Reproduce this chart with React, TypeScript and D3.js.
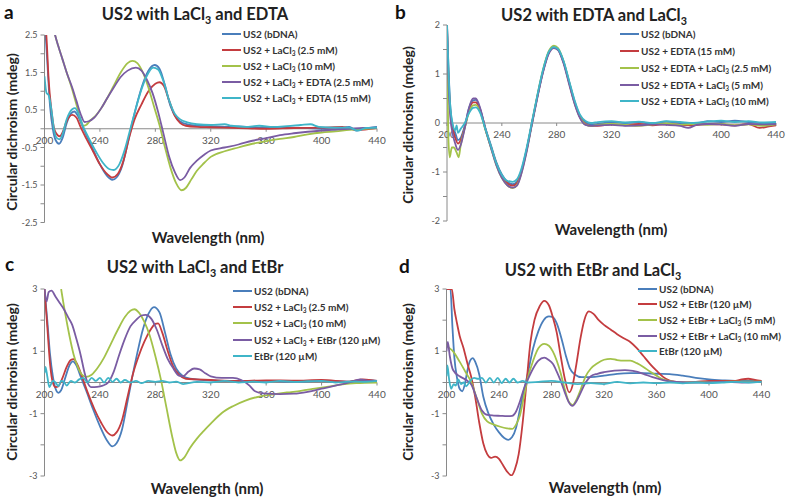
import React from 'react';
import * as d3 from 'd3';

type P = [number, number];

// ---------- tick values ----------
const xTicks = [200, 240, 280, 320, 360, 400, 440];
const aYLabels = [2.5, 1.5, 0.5, -0.5, -1.5, -2.5];
const bYLabels = [2, 1, 0, -1, -2];
const cdYLabels = [3, 1, -1, -3];

// ---------- legends ----------
const aLegend = ['US2 (bDNA)', 'US2 + LaCl₃ (2.5 mM)', 'US2 + LaCl₃ (10 mM)', 'US2 + LaCl₃ + EDTA (2.5 mM)', 'US2 + LaCl₃ + EDTA (15 mM)'];
const bLegend = ['US2 (bDNA)', 'US2 + EDTA (15 mM)', 'US2 + EDTA + LaCl₃ (2.5 mM)', 'US2 + EDTA + LaCl₃ (5 mM)', 'US2 + EDTA + LaCl₃ (10 mM)'];
const cLegend = ['US2 (bDNA)', 'US2 + LaCl₃ (2.5 mM)', 'US2 + LaCl₃ (10 mM)', 'US2 + LaCl₃ + EtBr (120 µM)', 'EtBr (120 µM)'];
const dLegend = ['US2 (bDNA)', 'US2 + EtBr (120 µM)', 'US2 + EtBr + LaCl₃ (5 mM)', 'US2 + EtBr + LaCl₃ (10 mM)', 'EtBr (120 µM)'];

// ---------- panel a ----------
const aBlue: P[] = [[200, 3.0], [202, 1.8], [204, 0.6], [206, 0.0], [208, -0.3], [210.5, -0.4], [213, -0.25], [216, 0.15], [219, 0.4], [221.5, 0.46], [224, 0.35], [227, 0.1], [230, -0.15], [235, -0.55], [240, -0.95], [245, -1.25], [249, -1.36], [252, -1.3], [256, -1.0], [260, -0.4], [263, 0.1], [267, 0.7], [271, 1.2], [275, 1.55], [279.5, 1.7], [283, 1.6], [287, 1.15], [291, 0.6], [295, 0.3], [300, 0.15], [310, 0.08], [320, 0.07], [330, 0.05], [340, 0.06], [350, 0.04], [360, 0.03], [370, 0.05], [380, 0.03], [390, 0.02], [400, 0.0], [410, -0.02], [420, 0.05], [425, -0.05], [430, 0.0], [440, 0.05]];
const aRed: P[] = [[200, 3.0], [201.5, 2.4], [203, 1.3], [205, 0.5], [207, 0.0], [209, -0.15], [211, -0.2], [213, -0.1], [216, 0.2], [220, 0.37], [223, 0.3], [226, 0.05], [230, -0.25], [235, -0.6], [240, -0.95], [245, -1.2], [249, -1.3], [253, -1.2], [257, -0.85], [261, -0.25], [265, 0.25], [270, 0.65], [275, 1.0], [280, 1.2], [283, 1.24], [286, 1.15], [290, 0.75], [294, 0.35], [298, 0.15], [302, 0.08], [310, 0.05], [320, 0.04], [340, 0.02], [360, 0.0], [380, 0.02], [400, 0.03], [415, 0.05], [425, -0.03], [440, 0.02]];
const aGreen: P[] = [[205, 3.0], [207, 2.6], [210, 2.2], [213, 1.85], [216, 1.5], [220, 1.05], [223, 0.65], [226, 0.25], [228, 0.08], [230, 0.1], [233, 0.22], [237, 0.35], [241, 0.55], [245, 0.8], [250, 1.15], [255, 1.5], [260, 1.75], [263.5, 1.81], [267, 1.75], [271, 1.5], [275, 1.1], [279, 0.6], [283, 0.1], [287, -0.5], [291, -1.05], [295, -1.45], [299, -1.64], [302, -1.58], [306, -1.35], [310, -1.12], [315, -0.92], [320, -0.75], [330, -0.6], [340, -0.5], [350, -0.4], [360, -0.33], [370, -0.27], [380, -0.22], [390, -0.15], [400, -0.1], [410, -0.07], [420, -0.03], [430, 0.0], [440, 0.02]];
const aPurple: P[] = [[205, 3.0], [207, 2.6], [210, 2.2], [213, 1.85], [216, 1.5], [220, 1.1], [223, 0.75], [226, 0.4], [229, 0.18], [232, 0.2], [236, 0.3], [241, 0.55], [245, 0.8], [250, 1.1], [255, 1.38], [260, 1.55], [266, 1.63], [270, 1.55], [274, 1.3], [278, 0.95], [282, 0.45], [286, -0.15], [290, -0.75], [294, -1.15], [298, -1.37], [301, -1.3], [305, -1.05], [310, -0.85], [315, -0.7], [320, -0.58], [330, -0.5], [340, -0.42], [350, -0.32], [360, -0.25], [370, -0.17], [380, -0.12], [390, -0.08], [400, -0.05], [410, -0.02], [420, 0.0], [430, 0.02], [440, 0.03]];
const aCyan: P[] = [[200, 1.4], [201.5, 0.95], [203, 0.9], [205, 0.5], [207, -0.05], [209, -0.25], [211, -0.28], [213, -0.15], [216, 0.25], [220, 0.52], [222, 0.55], [225, 0.35], [228, 0.05], [232, -0.25], [237, -0.6], [242, -0.9], [247, -1.08], [250, -1.1], [254, -0.95], [258, -0.55], [262, 0.0], [266, 0.55], [270, 1.05], [274, 1.42], [278.5, 1.63], [282, 1.58], [286, 1.25], [290, 0.75], [294, 0.4], [298, 0.25], [303, 0.17], [310, 0.12], [320, 0.1], [330, 0.12], [335, 0.08], [345, 0.05], [355, 0.08], [365, 0.05], [375, 0.07], [385, 0.1], [392, 0.12], [398, 0.05], [410, 0.03], [420, 0.03], [426, -0.05], [432, 0.02], [440, 0.03]];

// ---------- panel b ----------
const bBlue: P[] = [[200, 2.05], [201, 1.2], [202.5, 0.3], [204, -0.05], [206, -0.2], [208, -0.35], [210, -0.3], [213, -0.05], [216, 0.3], [219, 0.46], [221, 0.47], [224, 0.3], [228, -0.1], [232, -0.45], [236, -0.8], [240, -1.05], [244, -1.2], [248, -1.25], [251, -1.2], [254, -1.0], [258, -0.55], [262, 0.0], [266, 0.55], [270, 1.05], [274, 1.42], [278, 1.55], [281, 1.5], [285, 1.25], [289, 0.85], [293, 0.45], [297, 0.15], [301, 0.02], [305, -0.03], [310, -0.02], [320, 0.02], [330, 0.0], [340, 0.02], [350, -0.02], [360, 0.03], [370, 0.0], [380, -0.02], [390, 0.04], [400, 0.02], [410, 0.05], [420, 0.02], [430, 0.0], [440, 0.0]];
const bRed: P[] = [[200, 2.0], [201, 1.0], [202.5, 0.2], [204, -0.1], [206, -0.3], [208, -0.42], [210, -0.35], [213, -0.08], [216, 0.25], [219, 0.42], [221, 0.42], [224, 0.28], [228, -0.12], [232, -0.48], [236, -0.83], [240, -1.08], [244, -1.23], [248, -1.28], [251, -1.23], [254, -1.02], [258, -0.56], [262, 0.0], [266, 0.55], [270, 1.05], [274, 1.42], [278, 1.54], [281, 1.5], [285, 1.24], [289, 0.83], [293, 0.42], [297, 0.12], [301, -0.02], [305, -0.06], [310, -0.06], [320, -0.03], [330, -0.05], [340, -0.02], [350, -0.05], [360, -0.02], [370, -0.04], [380, -0.05], [390, -0.02], [400, -0.03], [410, -0.05], [420, -0.02], [428, -0.1], [435, -0.07], [440, -0.05]];
const bGreen: P[] = [[200, 1.5], [201, -0.3], [202, -0.7], [203.5, -0.5], [205, -0.5], [207, -0.6], [208.5, -0.7], [210, -0.45], [213, -0.1], [216, 0.22], [219, 0.36], [221, 0.37], [224, 0.25], [228, -0.14], [232, -0.5], [236, -0.86], [240, -1.12], [244, -1.27], [248, -1.33], [251, -1.27], [254, -1.05], [258, -0.58], [262, 0.0], [266, 0.57], [270, 1.08], [274, 1.45], [278, 1.58], [281, 1.53], [285, 1.26], [289, 0.84], [293, 0.42], [297, 0.12], [301, -0.03], [305, -0.06], [310, -0.04], [320, -0.02], [330, -0.04], [340, -0.06], [350, -0.03], [360, -0.01], [370, -0.04], [380, -0.02], [390, -0.04], [400, -0.02], [410, -0.05], [420, -0.03], [430, -0.06], [440, -0.03]];
const bPurple: P[] = [[200, 1.9], [201, 0.9], [202.5, 0.1], [204, -0.2], [206, -0.42], [208, -0.55], [210, -0.45], [213, -0.1], [216, 0.3], [219, 0.5], [221, 0.5], [224, 0.32], [228, -0.12], [232, -0.5], [236, -0.86], [240, -1.12], [244, -1.27], [248, -1.32], [251, -1.28], [254, -1.06], [258, -0.6], [262, -0.02], [266, 0.53], [270, 1.03], [274, 1.4], [278, 1.53], [281, 1.49], [285, 1.22], [289, 0.8], [293, 0.4], [297, 0.1], [301, -0.04], [305, -0.06], [310, -0.05], [320, -0.04], [330, -0.06], [340, -0.05], [350, -0.03], [360, -0.04], [370, -0.06], [376, -0.1], [382, -0.04], [390, -0.02], [400, -0.03], [410, -0.06], [420, -0.02], [430, -0.03], [440, -0.02]];
const bCyan: P[] = [[200, 2.0], [202, 0.5], [204, 0.0], [206, -0.15], [207, -0.05], [208, -0.2], [210, -0.12], [213, 0.0], [216, 0.2], [219, 0.31], [221, 0.32], [224, 0.22], [228, -0.12], [232, -0.47], [236, -0.82], [240, -1.06], [244, -1.18], [248, -1.2], [251, -1.15], [254, -0.96], [258, -0.52], [262, 0.03], [266, 0.58], [270, 1.08], [274, 1.44], [278, 1.55], [281, 1.51], [285, 1.27], [289, 0.87], [293, 0.47], [297, 0.17], [301, 0.04], [305, 0.0], [310, 0.02], [320, 0.04], [330, 0.01], [340, 0.03], [350, 0.0], [360, 0.04], [370, 0.02], [380, 0.0], [390, 0.03], [400, 0.05], [410, 0.02], [420, 0.04], [430, 0.01], [440, 0.02]];

// ---------- panel c ----------
const cBlue: P[] = [[200, 3.0], [202, 2.0], [204, 0.9], [206, 0.2], [208, -0.2], [210, -0.33], [212, -0.25], [215, 0.15], [218, 0.55], [220.5, 0.68], [223, 0.55], [226, 0.2], [230, -0.25], [235, -0.85], [240, -1.4], [245, -1.85], [249, -2.05], [252, -1.95], [256, -1.5], [260, -0.6], [263, 0.1], [267, 0.95], [271, 1.7], [275, 2.2], [279, 2.42], [283, 2.25], [287, 1.6], [291, 0.9], [295, 0.45], [300, 0.2], [305, 0.12], [315, 0.08], [330, 0.05], [345, 0.04], [360, 0.05], [380, 0.03], [400, 0.05], [420, 0.03], [430, 0.08], [440, 0.05]];
const cRed: P[] = [[200, 3.0], [202, 1.8], [204, 0.6], [206, 0.0], [208, -0.15], [210, -0.12], [213, 0.15], [216, 0.5], [219, 0.72], [221, 0.75], [224, 0.55], [227, 0.2], [231, -0.3], [236, -0.85], [241, -1.3], [245, -1.58], [249, -1.7], [252, -1.6], [256, -1.2], [260, -0.45], [264, 0.3], [268, 0.85], [272, 1.3], [276, 1.65], [280, 1.88], [282, 1.9], [285, 1.6], [289, 1.0], [293, 0.5], [297, 0.25], [302, 0.12], [310, 0.1], [320, 0.08], [340, 0.05], [360, 0.07], [380, 0.06], [400, 0.08], [420, 0.03], [430, 0.1], [440, 0.05]];
const cGreen: P[] = [[212, 3.0], [215, 2.2], [218, 1.5], [221, 0.9], [224, 0.5], [227, 0.25], [230, 0.18], [234, 0.25], [238, 0.45], [243, 0.8], [248, 1.25], [253, 1.7], [258, 2.1], [262, 2.3], [265, 2.35], [268, 2.25], [272, 1.95], [276, 1.5], [280, 0.85], [284, 0.1], [288, -0.8], [292, -1.7], [295, -2.25], [298, -2.5], [301, -2.4], [305, -2.1], [310, -1.8], [315, -1.55], [320, -1.32], [328, -0.98], [336, -0.76], [345, -0.58], [355, -0.45], [365, -0.38], [375, -0.32], [385, -0.27], [395, -0.2], [405, -0.13], [415, -0.06], [425, -0.02], [440, 0.0]];
const cPurple: P[] = [[200, 3.0], [201.5, 2.6], [203, 2.9], [205, 2.95], [208, 2.75], [211, 2.55], [214, 2.35], [217, 2.1], [220, 1.85], [223, 1.4], [226, 0.9], [229, 0.3], [231, 0.0], [234, -0.15], [238, -0.14], [242, -0.1], [246, 0.0], [250, 0.35], [254, 0.9], [258, 1.4], [262, 1.8], [266, 2.0], [270, 2.15], [273, 2.17], [277, 2.05], [281, 1.7], [285, 1.2], [289, 0.75], [293, 0.45], [297, 0.22], [300, 0.2], [304, 0.35], [308, 0.45], [312, 0.42], [316, 0.3], [320, 0.2], [328, 0.15], [336, 0.15], [342, 0.08], [348, -0.1], [352, -0.28], [358, -0.35], [370, -0.37], [380, -0.36], [390, -0.3], [400, -0.2], [410, -0.1], [420, 0.0], [428, 0.1], [434, 0.05], [440, 0.05]];
const cCyan: P[] = [[200, 0.3], [200.7, 0.5], [202, 0.2], [203.5, -0.15], [206, 0.05], [208, 0.0], [210, -0.12], [212, 0.05], [214, 0.02], [216, -0.1], [219, 0.05], [222, 0.0], [225, 0.1], [228, 0.15], [231, 0.0], [234, 0.15], [237, 0.05], [240, 0.15], [243, 0.0], [246, 0.15], [249, 0.02], [252, 0.12], [255, 0.0], [258, 0.08], [262, 0.0], [266, 0.05], [270, -0.02], [275, 0.05], [280, 0.02], [285, 0.05], [290, 0.0], [295, 0.03], [300, -0.05], [310, 0.02], [320, 0.0], [330, 0.05], [340, 0.0], [350, 0.03], [360, 0.0], [370, 0.05], [380, 0.02], [390, 0.04], [400, 0.05], [410, 0.0], [420, 0.03], [430, 0.02], [440, 0.05]];

// ---------- panel d ----------
const dBlue: P[] = [[200, 3.0], [203, 3.0], [204.5, 1.8], [206, 0.8], [208, 0.15], [210, -0.2], [212, -0.28], [214, -0.05], [216, 0.4], [218, 0.7], [220, 0.78], [222, 0.65], [225, 0.25], [228, -0.45], [232, -1.0], [236, -1.35], [240, -1.6], [244, -1.78], [247, -1.84], [250, -1.75], [253, -1.45], [256, -0.85], [259, -0.25], [262, 0.3], [266, 1.1], [270, 1.65], [274, 2.0], [278, 2.12], [281, 2.1], [284, 1.9], [288, 1.35], [291, 0.85], [294, 0.45], [298, 0.25], [303, 0.17], [310, 0.17], [320, 0.22], [330, 0.28], [340, 0.3], [350, 0.3], [360, 0.28], [370, 0.27], [380, 0.22], [390, 0.15], [400, 0.1], [410, 0.07], [420, 0.05], [430, 0.05], [440, 0.05]];
const dRed: P[] = [[200, 3.0], [204, 3.0], [206, 2.35], [208, 1.9], [210, 1.5], [213, 1.1], [216, 0.6], [219, 0.15], [222, -0.5], [225, -1.3], [228, -1.95], [231, -2.3], [234, -2.42], [237, -2.38], [240, -2.45], [243, -2.65], [246, -2.85], [249.5, -2.98], [252, -2.8], [255, -2.3], [258, -1.3], [261, 0.0], [264, 1.3], [267, 2.0], [271, 2.45], [274.5, 2.62], [278, 2.48], [281, 2.1], [284, 1.6], [287, 0.85], [290, 0.15], [293.5, -0.32], [296, -0.1], [299, 0.6], [302, 1.4], [305, 2.0], [308.5, 2.28], [312, 2.2], [316, 2.0], [320, 1.85], [325, 1.7], [330, 1.55], [335, 1.42], [340, 1.3], [345, 1.1], [350, 0.85], [355, 0.6], [360, 0.38], [365, 0.18], [370, 0.06], [375, 0.02], [380, 0.0], [390, 0.02], [400, 0.05], [410, 0.05], [420, 0.05], [425, 0.1], [430, 0.12], [435, 0.08], [440, 0.05]];
const dGreen: P[] = [[200, 1.2], [201, 1.15], [205, 1.0], [210, 0.67], [215, 0.3], [219, 0.0], [223, -0.5], [227, -1.0], [231, -1.25], [236, -1.35], [241, -1.42], [246, -1.47], [250, -1.49], [253, -1.35], [256, -1.05], [259, -0.45], [262, 0.15], [266, 0.7], [270, 1.1], [274.5, 1.24], [278, 1.18], [281, 1.0], [284, 0.7], [287, 0.3], [290, -0.2], [293, -0.6], [296, -0.72], [299, -0.55], [302, -0.25], [306, 0.2], [310, 0.45], [315, 0.62], [320, 0.73], [325, 0.76], [330, 0.72], [335, 0.7], [340, 0.7], [345, 0.62], [350, 0.5], [355, 0.35], [360, 0.22], [365, 0.1], [370, 0.04], [380, 0.0], [400, 0.02], [420, 0.03], [440, 0.03]];
const dPurple: P[] = [[200, 1.0], [201, 1.3], [202.5, 0.85], [205, 0.4], [210, 0.2], [215, 0.08], [219, -0.07], [223, -0.5], [227, -0.9], [231, -1.04], [236, -1.06], [241, -1.07], [246, -1.08], [250, -1.07], [253, -0.93], [256, -0.6], [259, -0.2], [262, 0.1], [266, 0.45], [270, 0.7], [274.5, 0.8], [278, 0.72], [281, 0.6], [284, 0.35], [287, 0.05], [290, -0.3], [293, -0.62], [296, -0.75], [299, -0.6], [302, -0.35], [306, 0.0], [310, 0.2], [315, 0.28], [320, 0.33], [328, 0.38], [336, 0.4], [342, 0.37], [350, 0.28], [357, 0.17], [365, 0.08], [375, 0.02], [390, 0.0], [410, 0.02], [425, 0.0], [440, 0.02]];
const dCyan: P[] = [[200, 0.2], [200.7, 0.55], [202, 0.1], [203.5, -0.2], [205.5, -0.05], [207, -0.1], [209, 0.1], [211, -0.05], [213, 0.0], [215, -0.12], [218, 0.05], [221, 0.15], [224, 0.12], [227, 0.15], [230, 0.0], [233, 0.15], [236, 0.0], [239, 0.15], [242, -0.02], [245, 0.12], [248, 0.0], [251, 0.12], [254, 0.0], [258, 0.05], [262, 0.0], [270, 0.02], [280, 0.05], [290, 0.0], [300, -0.05], [310, -0.02], [320, -0.05], [330, 0.02], [340, -0.03], [350, 0.0], [360, -0.02], [370, 0.0], [380, -0.03], [390, 0.0], [400, -0.02], [410, 0.0], [420, 0.02], [430, 0.0], [440, 0.02]];

const COLORS = ['#4a7ebb', '#c43c3f', '#a3c24a', '#7a5ca3', '#3fb5c8'];
const FONT = 'Lato, "Open Sans", sans-serif';

function Sub({ text, size }: { text: string; size: number }) {
  const parts = text.split('₃');
  const shift = size * 0.25;
  const out: React.ReactNode[] = [];
  parts.forEach((p, i) => {
    out.push(
      <tspan key={'p' + i} dy={i > 0 ? -shift : undefined}>
        {p}
      </tspan>
    );
    if (i < parts.length - 1) {
      out.push(
        <tspan key={'s' + i} fontSize={size * 0.65} dy={shift}>
          3
        </tspan>
      );
    }
  });
  return <>{out}</>;
}

interface PanelCfg {
  id: string;
  letter: string;
  letterX: number;
  letterY: number;
  title: string;
  titleX: number;
  titleY: number;
  x0: number;
  x1: number;
  yMin: number;
  yMax: number;
  yTop: number;
  yBot: number;
  tickStep: number;
  yLabels: number[];
  series: P[][];
  legend: string[];
  legX: number;
  legY: number[];
  yTitleX: number;
  yTitleY: number;
  xTitleX: number;
  xTitleY: number;
}

function Panel({ c }: { c: PanelCfg }) {
  const x = d3.scaleLinear().domain([200, 440]).range([c.x0, c.x1]);
  const y = d3.scaleLinear().domain([c.yMin, c.yMax]).range([c.yBot, c.yTop]);
  const line = d3
    .line<P>()
    .x((d) => x(d[0]))
    .y((d) => y(d[1]))
    .curve(d3.curveMonotoneX);
  const ticks = d3.range(c.yMin, c.yMax + 1e-6, c.tickStep);
  const y0 = y(0);
  return (
    <g>
      <defs>
        <clipPath id={'clip-' + c.id}>
          <rect x={c.x0} y={c.yTop} width={c.x1 - c.x0 + 2} height={c.yBot - c.yTop} />
        </clipPath>
      </defs>
      <text x={c.letterX} y={c.letterY} fontFamily={FONT} fontWeight="bold" fontSize={19} fill="#111">
        {c.letter}
      </text>
      <text x={c.titleX} y={c.titleY} fontFamily={FONT} fontWeight="bold" fontSize={16.5} fill="#222" textAnchor="middle">
        <Sub text={c.title} size={16.5} />
      </text>
      <text
        transform={`translate(${c.yTitleX},${c.yTitleY}) rotate(-90)`}
        fontFamily={FONT}
        fontWeight="bold"
        fontSize={14}
        fill="#222"
        textAnchor="middle"
      >
        Circular dichroism (mdeg)
      </text>
      <text x={c.xTitleX} y={c.xTitleY} fontFamily={FONT} fontWeight="bold" fontSize={15} fill="#222" textAnchor="middle">
        Wavelength (nm)
      </text>
      {/* axes */}
      <line x1={c.x0} x2={c.x0} y1={c.yTop} y2={c.yBot} stroke="#8a8a8a" strokeWidth={1} />
      {ticks.map((t, i) => (
        <line key={'yt' + i} x1={c.x0 - 4} x2={c.x0} y1={y(t)} y2={y(t)} stroke="#8a8a8a" strokeWidth={1} />
      ))}
      {c.yLabels.map((t, i) => (
        <text key={'yl' + i} x={c.x0 - 7} y={y(t) + 3} fontFamily={FONT} fontSize={9} fill="#555" textAnchor="end">
          {t}
        </text>
      ))}
      <line x1={c.x0} x2={c.x1} y1={y0} y2={y0} stroke="#8a8a8a" strokeWidth={1} />
      {xTicks.map((t, i) => (
        <line key={'xt' + i} x1={x(t)} x2={x(t)} y1={y0} y2={y0 + 3} stroke="#8a8a8a" strokeWidth={1} />
      ))}
      {xTicks.map((t, i) => (
        <text key={'xl' + i} x={x(t)} y={y0 + 15} fontFamily={FONT} fontSize={10} fill="#555" textAnchor="middle">
          {t}
        </text>
      ))}
      <g clipPath={`url(#clip-${c.id})`}>
        {c.series.map((s, i) => (
          <path key={'s' + i} d={line(s) || ''} fill="none" stroke={COLORS[i]} strokeWidth={1.8} strokeLinejoin="round" />
        ))}
      </g>
      {c.legend.map((l, i) => (
        <g key={'lg' + i}>
          <line x1={c.legX} x2={c.legX + 19} y1={c.legY[i]} y2={c.legY[i]} stroke={COLORS[i]} strokeWidth={2} />
          <text x={c.legX + 21} y={c.legY[i] + 3.5} fontFamily={FONT} fontWeight="bold" fontSize={10} fill="#333">
            <Sub text={l} size={10} />
          </text>
        </g>
      ))}
    </g>
  );
}

const panels: PanelCfg[] = [
  {
    id: 'a', letter: 'a', letterX: 4, letterY: 19, title: 'US2 with LaCl₃ and EDTA', titleX: 195, titleY: 20,
    x0: 44.5, x1: 377, yMin: -2.5, yMax: 2.5, yTop: 35, yBot: 222.5, tickStep: 0.5, yLabels: aYLabels,
    series: [aBlue, aRed, aGreen, aPurple, aCyan], legend: aLegend, legX: 222, legY: [34, 50, 66, 82, 98],
    yTitleX: 17, yTitleY: 132, xTitleX: 208, xTitleY: 243,
  },
  {
    id: 'b', letter: 'b', letterX: 395, letterY: 19, title: 'US2 with EDTA and LaCl₃', titleX: 594, titleY: 21,
    x0: 447, x1: 776, yMin: -2, yMax: 2, yTop: 25, yBot: 221, tickStep: 0.5, yLabels: bYLabels,
    series: [bBlue, bRed, bGreen, bPurple, bCyan], legend: bLegend, legX: 620, legY: [34, 51, 68, 85, 101],
    yTitleX: 413, yTitleY: 125, xTitleX: 611, xTitleY: 235,
  },
  {
    id: 'c', letter: 'c', letterX: 5, letterY: 271, title: 'US2 with LaCl₃ and EtBr', titleX: 195, titleY: 273,
    x0: 44.5, x1: 377, yMin: -3, yMax: 3, yTop: 289, yBot: 476, tickStep: 1, yLabels: cdYLabels,
    series: [cBlue, cRed, cGreen, cPurple, cCyan], legend: cLegend, legX: 233, legY: [291, 307, 323, 340, 356],
    yTitleX: 17, yTitleY: 382, xTitleX: 207, xTitleY: 494,
  },
  {
    id: 'd', letter: 'd', letterX: 399, letterY: 273, title: 'US2 with EtBr and LaCl₃', titleX: 593, titleY: 276,
    x0: 446.5, x1: 761.5, yMin: -3, yMax: 3, yTop: 289, yBot: 476, tickStep: 1, yLabels: cdYLabels,
    series: [dBlue, dRed, dGreen, dPurple, dCyan], legend: dLegend, legX: 638, legY: [289, 304, 320, 336, 351],
    yTitleX: 413, yTitleY: 382, xTitleX: 605, xTitleY: 493,
  },
];

export default function App() {
  return (
    <svg
      width={787}
      height={501}
      viewBox="0 0 787 501"
      style={{ position: 'absolute', left: 0, top: 0, background: '#fff' }}
    >
      <rect x={0} y={0} width={787} height={501} fill="#fff" />
      {panels.map((p) => (
        <Panel key={p.id} c={p} />
      ))}
    </svg>
  );
}
